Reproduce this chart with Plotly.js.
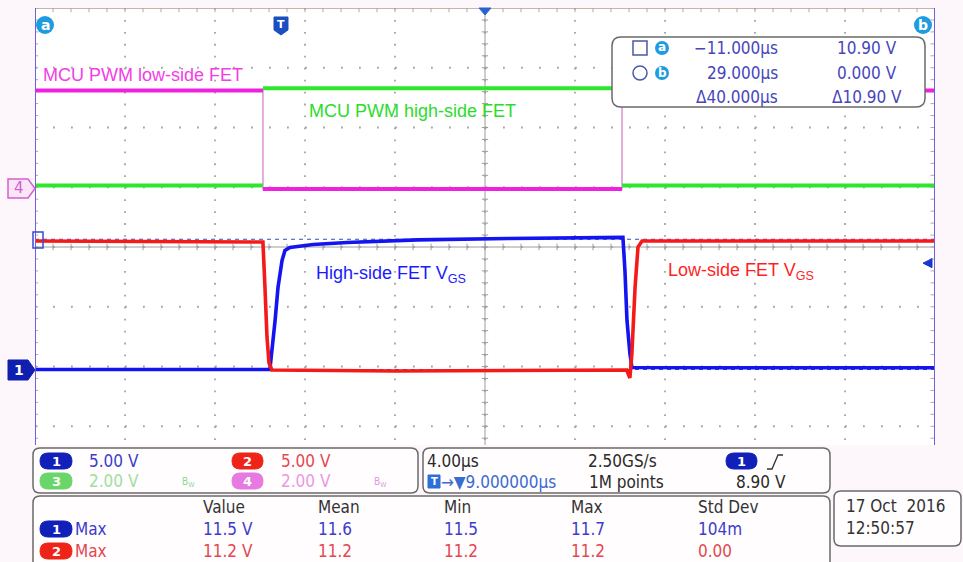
<!DOCTYPE html>
<html>
<head>
<meta charset="utf-8">
<script src="https://cdn.plot.ly/plotly-3.0.1.min.js"></script>
<style>
html,body{margin:0;padding:0;background:#fdf6fb;}
#chart{width:963px;height:562px;}
</style>
</head>
<body>
<div id="chart"></div>
<script>
// ================= DATA =================
// time in microseconds, values in volts
const ch1Time  = [-11, -0.56, -0.33, -0.20, -0.02, 0.11, 0.33, 1.36, 2.87, 6.0, 10.0, 15.13, 15.22, 15.31, 15.44, 15.53, 20.0, 29];
const ch1Volts = [0.0, 0.0, 4.10, 6.86, 9.12, 9.96, 10.21, 10.46, 10.63, 10.85, 10.96, 11.05, 8.28, 4.10, 1.34, 0.17, 0.15, 0.15];

const ch2Time  = [-11, -0.87, -0.78, -0.69, -0.60, -0.47, 5.0, 15.30, 15.44, 15.53, 15.67, 15.80, 15.98, 29];
const ch2Volts = [10.75, 10.67, 6.90, 2.72, 0.54, -0.04, -0.13, -0.04, -0.71, 1.38, 6.90, 10.25, 10.75, 10.75];

const ch3Time  = [-11, -0.87, -0.87, 15.09, 15.09, 29];
const ch3Volts = [0.0, 0.0, 3.25, 3.25, 0.0, 0.0];

const ch4Time  = [-11, -0.87, -0.87, 15.09, 15.09, 29];
const ch4Volts = [3.30, 3.30, 0.0, 0.0, 3.30, 3.30];

const cursorTimes = [-11.0, 29.0];       // µs
const cursorVolts = [10.90, 0.000];      // V (ch1)
const triggerLevel = 8.90;               // V (ch1)

const labels = ['MCU PWM low-side FET', 'MCU PWM high-side FET', 'High-side FET V<sub>GS</sub>', 'Low-side FET V<sub>GS</sub>'];
const cursorReadout = [['\u221211.000\u00b5s', '10.90 V'], ['29.000\u00b5s', '0.000 V'], ['\u039440.000\u00b5s', '\u039410.90 V']];
const chanScaleText = ['5.00 V', '5.00 V', '2.00 V', '2.00 V'];
const timebaseText = ['4.00\u00b5s', '2.50GS/s', '\u2192\u25bc9.000000\u00b5s', '1M points', '8.90 V'];
const measHeaders = ['Value', 'Mean', 'Min', 'Max', 'Std Dev'];
const meas1 = ['11.5 V', '11.6', '11.5', '11.7', '104m'];
const meas2 = ['11.2 V', '11.2', '11.2', '11.2', '0.00'];
const dateText = ['17 Oct\u00a0\u00a02016', '12:50:57'];

// ================= scope settings =================
const voltsPerDiv = {ch1: 5, ch2: 5, ch3: 2, ch4: 2};
const offsetDiv   = {ch1: -2.05, ch2: -2.05, ch3: 1.03, ch4: 0.97};
const TIME_PER_DIV = 4;

// ================= geometry =================
const W = 963, H = 562;
const PL = 35, PR = 935, PT = 8, PB = 445;
const DIV_PX = 59.75;
const X_RANGE = [-11, 29];
const Y_TOP = 4, Y_BOT = 4 - (PB - PT) / DIV_PX;

const fx = x => (x - PL) / (PR - PL);
const fy = y => (PB - y) / (PB - PT);

const FONT = '"DejaVu Sans Condensed", "DejaVu Sans", sans-serif';
const LABEL_FONT = '"Liberation Sans", Arial, sans-serif';

function toDiv(v, ch) { return v.map(a => a / voltsPerDiv[ch] + offsetDiv[ch]); }
function flatOnly(t, y) {
  const xs = [], ys = [];
  for (let i = 0; i < t.length; i++) {
    if (i > 0 && t[i] === t[i - 1]) { xs.push(null); ys.push(null); }
    xs.push(t[i]); ys.push(y[i]);
  }
  return {x: xs, y: ys};
}

// ================= traces =================
const c3 = toDiv(ch3Volts, 'ch3'), c4 = toDiv(ch4Volts, 'ch4');
const f3 = flatOnly(ch3Time, c3), f4 = flatOnly(ch4Time, c4);
const base = {type: 'scatter', mode: 'lines', hoverinfo: 'skip', showlegend: false};
const traces = [
  Object.assign({}, base, {x: ch3Time, y: c3, line: {color: '#8fe88f', width: 1}}),
  Object.assign({}, base, {x: ch4Time, y: c4, line: {color: '#f08ae8', width: 1.3}}),
  Object.assign({}, base, {x: f3.x, y: f3.y, connectgaps: false, line: {color: '#2de62d', width: 4}}),
  Object.assign({}, base, {x: f4.x, y: f4.y, connectgaps: false, line: {color: '#f020e0', width: 4}}),
  Object.assign({}, base, {x: ch1Time, y: toDiv(ch1Volts, 'ch1'), line: {color: '#1414f0', width: 3.6}}),
  Object.assign({}, base, {x: ch2Time, y: toDiv(ch2Volts, 'ch2'), line: {color: '#f51a1a', width: 3.6}})
];

// ================= shapes =================
const shapes = [];
function pxPath(segs) {
  return segs.map(s => s[0] + s.slice(1).map((v, i) => (i % 2 === 0 ? fx(v) : fy(v)).toFixed(5)).join(',')).join(' ');
}
function roundRect(x0, y0, x1, y1, r) {
  return pxPath([['M', x0 + r, y0], ['L', x1 - r, y0], ['Q', x1, y0, x1, y0 + r], ['L', x1, y1 - r],
    ['Q', x1, y1, x1 - r, y1], ['L', x0 + r, y1], ['Q', x0, y1, x0, y1 - r], ['L', x0, y0 + r],
    ['Q', x0, y0, x0 + r, y0], ['Z']]);
}
function pshape(path, fill, lineColor, lw, layer) {
  shapes.push({type: 'path', xref: 'paper', yref: 'paper', path: path, fillcolor: fill || 'rgba(0,0,0,0)',
    line: {color: lineColor || 'rgba(0,0,0,0)', width: lw || 0}, layer: layer || 'above'});
}
function circ(x0, y0, x1, y1, fill, lineColor, lw) {
  shapes.push({type: 'circle', xref: 'paper', yref: 'paper', x0: fx(x0), x1: fx(x1), y0: fy(y1), y1: fy(y0),
    fillcolor: fill || 'rgba(0,0,0,0)', line: {color: lineColor || 'rgba(0,0,0,0)', width: lw || 0}, layer: 'above'});
}

// dotted graticule (one dotted line per division)
const GRID = '#a4a4a4';
for (let t = X_RANGE[0] + TIME_PER_DIV; t < X_RANGE[1] - 1e-6; t += TIME_PER_DIV) {
  shapes.push({type: 'line', xref: 'x', yref: 'y', x0: t, x1: t, y0: Y_TOP, y1: Y_BOT,
    line: {color: GRID, width: 1.8, dash: '1.8px,10.15px'}, layer: 'below'});
}
for (let d = Math.ceil(Y_BOT); d < Y_TOP; d += 1) {
  shapes.push({type: 'line', xref: 'x', yref: 'y', x0: X_RANGE[0], x1: X_RANGE[1], y0: d, y1: d,
    line: {color: GRID, width: 1.8, dash: '1.8px,16.2px'}, layer: 'below'});
}

// graticule centre lines + tick marks (data coordinates)
const xMid = (X_RANGE[0] + X_RANGE[1]) / 2;
shapes.push({type: 'line', xref: 'x', yref: 'y', x0: xMid, x1: xMid, y0: Y_BOT, y1: Y_TOP, line: {color: '#9c9c9c', width: 1}, layer: 'below'});
shapes.push({type: 'line', xref: 'x', yref: 'y', x0: X_RANGE[0], x1: X_RANGE[1], y0: 0, y1: 0, line: {color: '#9c9c9c', width: 1}, layer: 'below'});
let hT = '', vT = '', topT = '', rT = '', lT = '';
for (let t = X_RANGE[0]; t <= X_RANGE[1] + 1e-6; t += 0.8) {
  hT += `M${t.toFixed(3)},-0.055 L${t.toFixed(3)},0.055 `;
  topT += `M${t.toFixed(3)},${Y_TOP} L${t.toFixed(3)},${(Y_TOP - 0.07).toFixed(3)} `;
}
for (let d = Y_TOP; d >= Y_BOT - 1e-6; d -= 0.2) {
  vT += `M${(xMid - 0.14).toFixed(3)},${d.toFixed(3)} L${(xMid + 0.14).toFixed(3)},${d.toFixed(3)} `;
  rT += `M${X_RANGE[1]},${d.toFixed(3)} L${(X_RANGE[1] - 0.2).toFixed(3)},${d.toFixed(3)} `;
  lT += `M${X_RANGE[0]},${d.toFixed(3)} L${(X_RANGE[0] + 0.14).toFixed(3)},${d.toFixed(3)} `;
}
[hT, vT].forEach(p => shapes.push({type: 'path', xref: 'x', yref: 'y', path: p, line: {color: '#9c9c9c', width: 1}, layer: 'below'}));
[topT, rT, lT].forEach(p => shapes.push({type: 'path', xref: 'x', yref: 'y', path: p, line: {color: '#a8a8c0', width: 1}, layer: 'below'}));

// cursor horizontal (dashed) lines
cursorVolts.forEach(v => {
  const d = v / voltsPerDiv.ch1 + offsetDiv.ch1;
  shapes.push({type: 'line', xref: 'x', yref: 'y', x0: X_RANGE[0], x1: X_RANGE[1], y0: d, y1: d,
    line: {color: '#3848c8', width: 1.2, dash: '4px,4px'}, layer: 'below'});
});
// top border + cursor vertical lines
shapes.push({type: 'line', xref: 'x', yref: 'y', x0: X_RANGE[0], x1: X_RANGE[1], y0: Y_TOP, y1: Y_TOP, line: {color: '#b49c8c', width: 1.5}, layer: 'above'});
cursorTimes.forEach(t => shapes.push({type: 'line', xref: 'x', yref: 'y', x0: t, x1: t, y0: Y_BOT, y1: Y_TOP,
  line: {color: '#6d62d8', width: 2}, layer: 'above'}));

// trigger level arrow (right edge)
const trigY = PT + (Y_TOP - (triggerLevel / voltsPerDiv.ch1 + offsetDiv.ch1)) * DIV_PX;
pshape(pxPath([['M', 932, trigY - 4.5], ['L', 923, trigY], ['L', 932, trigY + 4.5], ['Z']]), '#1a36d0', '#1a36d0', 1);
// trigger position marker (top centre) & T marker
pshape(pxPath([['M', 479, 8], ['L', 491, 8], ['L', 485, 15], ['Z']]), '#2a62d2', '#2a62d2', 1);
pshape(pxPath([['M', 274, 17], ['L', 288, 17], ['L', 288, 30], ['L', 281, 35], ['L', 274, 30], ['Z']]), '#1b4fbf', '#1b4fbf', 1);
// cursor a / b badges
circ(36, 16, 54, 34, '#1f9be0');
circ(914, 16, 932, 34, '#1f9be0');
// left channel markers
pshape(pxPath([['M', 8, 179], ['L', 28, 179], ['L', 35, 188.5], ['L', 28, 198], ['L', 8, 198], ['Z']]), '#fbe6f7', '#d35fcf', 1.5);
pshape(pxPath([['M', 8, 360], ['L', 28, 360], ['L', 35, 370], ['L', 28, 380], ['L', 8, 380], ['Z']]), '#0f1fb0', '#0f1fb0', 1);
pshape(pxPath([['M', 33, 232], ['L', 43, 232], ['L', 43, 248], ['L', 33, 248], ['Z']]), null, '#3a4ad0', 1.5);

// cursor readout box
pshape(roundRect(612, 37, 925, 107, 9), '#ffffff', '#6a6a6a', 1.5);
pshape(pxPath([['M', 633, 41], ['L', 647, 41], ['L', 647, 55], ['L', 633, 55], ['Z']]), null, '#4a58a8', 1.5);
circ(655, 41, 669, 55, '#1f9be0');
circ(633, 66, 647, 80, null, '#4a58a8', 1.5);
circ(655, 66, 669, 80, '#1f9be0');

// bottom background + panels
pshape(pxPath([['M', 0, 446], ['L', 963, 446], ['L', 963, 562], ['L', 0, 562], ['Z']]), '#fdf6fb', null, 0);
pshape(roundRect(33, 448, 418, 493, 7), '#fffdfe', '#6a6a6a', 1.5);
pshape(roundRect(423, 448, 830, 493, 7), '#fffdfe', '#6a6a6a', 1.5);
pshape(roundRect(33, 496, 830, 580, 7), '#fffdfe', '#6a6a6a', 1.5);
pshape(roundRect(834, 491, 961, 546, 7), '#fffdfe', '#6a6a6a', 1.5);

// pills
function pill(x0, y0, x1, y1, fill) { pshape(roundRect(x0, y0, x1, y1, (y1 - y0) / 2), fill, fill, 1); }
pill(40, 453, 72, 469, '#1020b8');
pill(232, 453, 263, 469, '#ee2418');
pill(40, 473, 72, 489, '#6ad66a');
pill(232, 473, 263, 489, '#e67ae0');
pill(726, 453, 757, 469, '#1020b8');
pill(40, 521, 72, 537, '#1020b8');
pill(40, 543, 72, 559, '#ee2418');
// T box in timebase panel
pshape(pxPath([['M', 428, 475], ['L', 440, 475], ['L', 440, 488], ['L', 428, 488], ['Z']]), '#2c6fd6', '#2c6fd6', 1);
// slope icon
pshape(pxPath([['M', 767, 469], ['L', 772, 469], ['L', 778, 455], ['L', 783, 455]]), null, '#333333', 1.3);

// ================= annotations =================
const annotations = [];
function txt(text, x, y, color, size, opts) {
  annotations.push(Object.assign({xref: 'paper', yref: 'paper', x: fx(x), y: fy(y), text: text, showarrow: false,
    xanchor: 'left', yanchor: 'middle', borderpad: 0, font: {family: FONT, size: size, color: color}}, opts || {}));
}
const ctr = {xanchor: 'center'};
const bold = (c, s) => ({xanchor: 'center', font: {family: '"DejaVu Sans", sans-serif', size: s, color: c, weight: 'bold'}});

// trace labels
txt(labels[0], 42, 75, '#f53ce6', 18, {font: {family: LABEL_FONT, size: 18, color: '#f53ce6'}});
txt(labels[1], 308, 111, '#2bdc2b', 18, {font: {family: LABEL_FONT, size: 18, color: '#2bdc2b'}});
txt(labels[2], 315, 275, '#1a1aff', 18, {font: {family: LABEL_FONT, size: 18, color: '#1a1aff'}});
txt(labels[3], 667, 271, '#ff1f1f', 18, {font: {family: LABEL_FONT, size: 18, color: '#ff1f1f'}});

// badges
txt('a', 45, 24.5, '#fff', 14, bold('#fff', 14));
txt('b', 923, 24.5, '#fff', 14, bold('#fff', 14));
txt('T', 281, 25, '#fff', 11, bold('#fff', 11));
txt('4', 19, 188.5, '#d35fcf', 15, {xanchor: 'center', font: {family: '"DejaVu Sans", sans-serif', size: 15, color: '#d35fcf'}});
txt('1', 19, 370, '#fff', 14, bold('#fff', 14));
txt('a', 662, 47.5, '#fff', 12, bold('#fff', 12));
txt('b', 662, 72.5, '#fff', 12, bold('#fff', 12));

// cursor readout
const CUR = '#4646bc';
cursorReadout.forEach((row, i) => {
  const y = 48 + i * 24.5;
  txt(row[0], 779, y, CUR, 17, {xanchor: 'right'});
  txt(row[1], 867, y, CUR, 17, ctr);
});

// channel scale panel
const BLUE = '#3c3cc8', RED = '#e4474f', LGREEN = '#9ee09e', PINK = '#ea98e4', DARK = '#2a2a2a';
txt('1', 56, 461, '#fff', 13, bold('#fff', 13));
txt('2', 247.5, 461, '#fff', 13, bold('#fff', 13));
txt('3', 56, 481, '#fff', 13, bold('#fff', 13));
txt('4', 247.5, 481, '#fff', 13, bold('#fff', 13));
txt(chanScaleText[0], 88, 461, BLUE, 17);
txt(chanScaleText[1], 280, 461, RED, 17);
txt(chanScaleText[2], 88, 481, LGREEN, 17);
txt(chanScaleText[3], 280, 481, PINK, 17);
txt('B<sub>W</sub>', 181, 482, '#8fd88f', 10);
txt('B<sub>W</sub>', 373, 482, '#e39ae0', 10);

// timebase panel
txt(timebaseText[0], 426, 461, DARK, 17);
txt(timebaseText[1], 587, 461, DARK, 17);
txt('1', 741.5, 461, '#fff', 13, bold('#fff', 13));
txt('T', 434, 481.5, '#fff', 10, bold('#fff', 10));
txt(timebaseText[2], 440, 482, '#3a6cd0', 17);
txt(timebaseText[3], 588, 482, DARK, 17);
txt(timebaseText[4], 735, 482, DARK, 17);

// measurement panel
const colX = [202, 317, 443, 570, 697];
measHeaders.forEach((h, i) => txt(h, colX[i], 507, '#333333', 17));
txt('1', 56, 529, '#fff', 13, bold('#fff', 13));
txt('2', 56, 551, '#fff', 13, bold('#fff', 13));
txt('Max', 74, 529, BLUE, 17);
txt('Max', 74, 551, RED, 17);
meas1.forEach((v, i) => txt(v, colX[i], 529, BLUE, 17));
meas2.forEach((v, i) => txt(v, colX[i], 551, RED, 17));

// date box
txt(dateText[0], 845, 506, '#333333', 17);
txt(dateText[1], 845, 528, '#333333', 17);

// ================= layout =================
const layout = {
  width: W, height: H, autosize: false,
  margin: {l: PL, r: W - PR, t: PT, b: H - PB, pad: 0},
  paper_bgcolor: '#fdf6fb', plot_bgcolor: '#ffffff',
  showlegend: false,
  xaxis: {range: X_RANGE, showgrid: false, zeroline: false, showticklabels: false, ticks: '', showline: false, fixedrange: true},
  yaxis: {range: [Y_BOT, Y_TOP], showgrid: false, zeroline: false, showticklabels: false, ticks: '', showline: false, fixedrange: true},
  shapes: shapes,
  annotations: annotations
};

Plotly.newPlot('chart', traces, layout, {displayModeBar: false, staticPlot: true});
</script>
</body>
</html>
